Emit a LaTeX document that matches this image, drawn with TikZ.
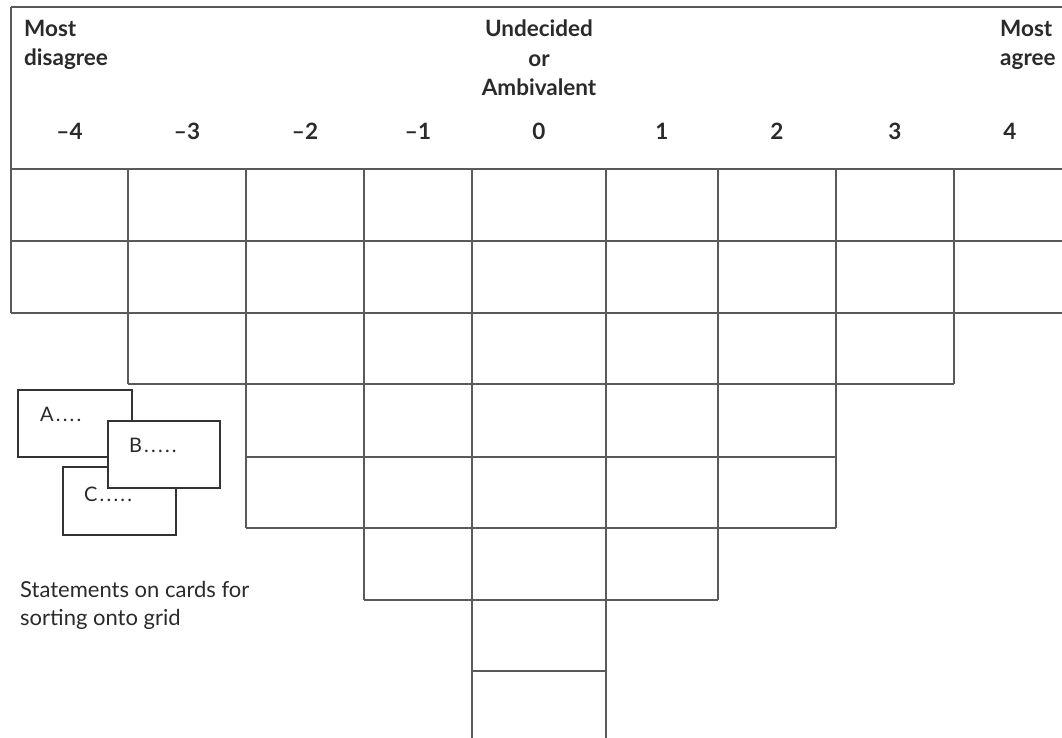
\documentclass[tikz,border=0pt]{standalone}
\usepackage{fontspec}
\setmainfont{Lato}
\usetikzlibrary{calc}
\definecolor{gridc}{HTML}{5A5A5A}
\definecolor{cardc}{HTML}{333333}
\definecolor{txt}{HTML}{2A2A2A}
\newcommand{\carddots}[1]{\foreach \i in {1,...,#1}{\kern2.2pt.}}
\tikzset{
  gridline/.style={draw=gridc, line width=1.6pt},
  card/.style={draw=cardc, line width=2.2pt, fill=white, rectangle, inner sep=0pt},
  head/.style={font=\fontsize{22.5}{29.5}\selectfont\bfseries, text=txt, inner sep=0pt},
  num/.style={font=\fontsize{22.5}{24}\selectfont\bfseries, text=txt, inner sep=0pt, anchor=base},
  cardtext/.style={font=\fontsize{20}{22}\selectfont, text=txt, inner sep=0pt, anchor=base west},
  note/.style={font=\fontsize{22}{28}\selectfont, text=txt, inner sep=0pt, align=left}
}
\begin{document}
\begin{tikzpicture}[x=1pt,y=-1pt]
\useasboundingbox (0,0) rectangle (1062,738);
% horizontal lines
\draw[gridline] (11,7) -- (1062,7);
\draw[gridline] (11,169) -- (1062,169);
\draw[gridline] (11,241) -- (1062,241);
\draw[gridline] (11,313) -- (1062,313);
\draw[gridline] (128,384) -- (954,384);
\draw[gridline] (246,457) -- (836,457);
\draw[gridline] (246,528) -- (836,528);
\draw[gridline] (364,600) -- (718,600);
\draw[gridline] (472,671) -- (606,671);
% vertical lines
\draw[gridline] (11,7) -- (11,313);
\draw[gridline] (128,169) -- (128,384);
\draw[gridline] (246,169) -- (246,528);
\draw[gridline] (364,169) -- (364,600);
\draw[gridline] (472,169) -- (472,738);
\draw[gridline] (606,169) -- (606,738);
\draw[gridline] (718,169) -- (718,600);
\draw[gridline] (836,169) -- (836,528);
\draw[gridline] (954,169) -- (954,384);
% header texts
\node[head, anchor=north west, align=left] (mdis) at (24,20) {Most\\disagree};
\node[head, anchor=north, align=center] (und) at (539,20) {Undecided\\or\\Ambivalent};
\node[head, anchor=north west, align=left] (magr) at (1000,20) {Most\\agree};
% numbers
\node[num] (n1) at (69.5,140) {–4};
\node[num] (n2) at (187,140) {–3};
\node[num] (n3) at (305,140) {–2};
\node[num] (n4) at (418,140) {–1};
\node[num] (n5) at (539,140) {0};
\node[num] (n6) at (662,140) {1};
\node[num] (n7) at (777,140) {2};
\node[num] (n8) at (895,140) {3};
\node[num] (n9) at (1010,140) {4};
% cards
\node[card, minimum width=114pt, minimum height=67pt] (cA) at (75,423.5) {};
\node[cardtext] (tA) at ($(cA.north west)+(23,33)$) {A\carddots{4}};
\node[card, minimum width=113pt, minimum height=68pt] (cC) at (119.5,501) {};
\node[cardtext] (tC) at ($(cC.north west)+(22,36)$) {C\carddots{5}};
\node[card, minimum width=112pt, minimum height=67pt] (cB) at (164,454.5) {};
\node[cardtext] (tB) at ($(cB.north west)+(22,33)$) {B\carddots{5}};
% note
\node[note, anchor=north west] (note) at (20,581) {Statements on cards for\\sorting onto grid};
\end{tikzpicture}
\end{document}
